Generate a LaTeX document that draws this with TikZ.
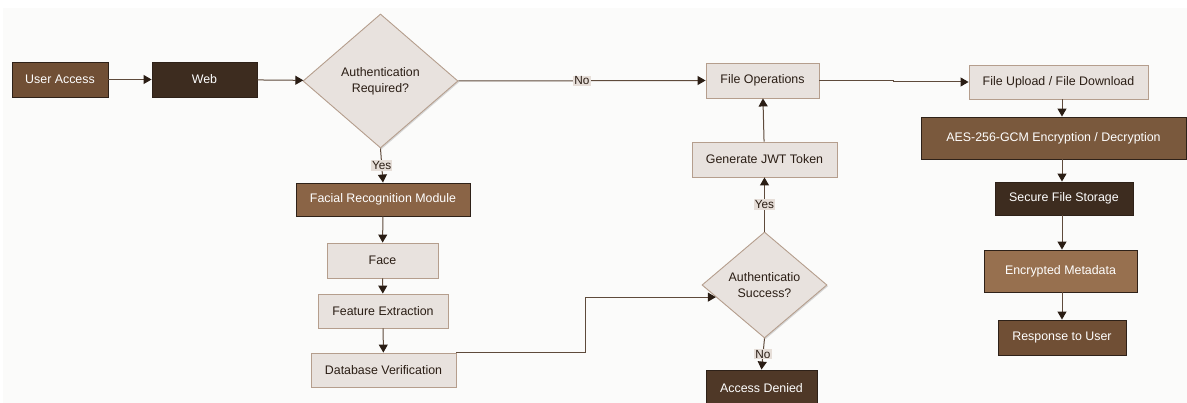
\documentclass[tikz,border=0pt]{standalone}
\usepackage{fontspec}
\setmainfont{Liberation Sans}
\usetikzlibrary{shapes.geometric,arrows.meta,shadows}
\definecolor{bgc}{HTML}{FBFBFA}
\definecolor{lightfill}{HTML}{E8E2DE}
\definecolor{lightline}{HTML}{B59E8D}
\definecolor{darkfill}{HTML}{3D2C1F}
\definecolor{brownfill}{HTML}{704F35}
\definecolor{rustfill}{HTML}{8A6446}
\definecolor{aesfill}{HTML}{7A593D}
\definecolor{metafill}{HTML}{97704F}
\definecolor{deniedfill}{HTML}{4F3827}
\definecolor{boxline}{HTML}{2E2118}
\definecolor{linkc}{HTML}{5E4A3B}
\definecolor{tipc}{HTML}{2A1D14}
\definecolor{txtc}{HTML}{2A1D14}
\definecolor{tagc}{HTML}{E6DED8}
\tikzset{
	box/.style={rectangle, draw=boxline, line width=0.9pt, inner sep=0pt, text=white, font=\fontsize{12.4}{14}\selectfont, drop shadow={shadow xshift=1.2pt, shadow yshift=-1.2pt, opacity=0.3}},
	lightbox/.style={box, fill=lightfill, draw=lightline, text=txtc},
	decision/.style={diamond, fill=lightfill, draw=lightline, line width=0.9pt, inner sep=0pt, align=center, text=txtc, font=\fontsize{12.4}{16}\selectfont, drop shadow={shadow xshift=1.2pt, shadow yshift=-1.2pt, opacity=0.3}},
	link/.style={draw=linkc, line width=1pt, -{Triangle[length=8pt,width=9pt,color=tipc]}},
	tag/.style={fill=tagc, inner sep=1pt, text=txtc, font=\fontsize{11.8}{13}\selectfont}
}
\begin{document}
\begin{tikzpicture}[x=1pt, y=-1pt]
	\useasboundingbox (0,0) rectangle (1187,403);
	\fill[white] (0,0) rectangle (1187,403);
	\fill[bgc] (3,8) rectangle (1187,403);

	\node[box, fill=brownfill, minimum width=96pt, minimum height=35pt] (user) at (60,79.5) {User Access};
	\node[box, fill=darkfill, minimum width=105pt, minimum height=35pt] (web) at (204.5,79.5) {Web};
	\node[decision, minimum width=155pt, minimum height=134pt] (auth) at (380.5,81) {Authentication\\Required?};

	\node[box, fill=rustfill, minimum width=174pt, minimum height=33pt] (frm) at (383,199.5) {Facial Recognition Module};
	\node[lightbox, minimum width=111pt, minimum height=35pt] (face) at (382.5,260.5) {Face};
	\node[lightbox, minimum width=130pt, minimum height=34pt] (fext) at (383,311) {Feature Extraction};
	\node[lightbox, minimum width=145pt, minimum height=34pt] (dbv) at (383.5,370) {Database Verification};

	\node[decision, minimum width=125pt, minimum height=106pt] (auth2) at (764.5,285) {Authenticatio\\Success?};
	\node[lightbox, minimum width=145pt, minimum height=35pt] (jwt) at (764.5,159.5) {Generate JWT Token};
	\node[lightbox, minimum width=113pt, minimum height=35pt] (fop) at (762.5,80.5) {File Operations};
	\node[box, fill=deniedfill, minimum width=111pt, minimum height=36pt] (denied) at (761.5,388) {Access Denied};

	\node[lightbox, minimum width=179pt, minimum height=34pt] (fud) at (1058.5,82) {File Upload / File Download};
	\node[box, fill=aesfill, minimum width=265pt, minimum height=42pt] (aes) at (1053.5,138) {AES-256-GCM Encryption / Decryption};
	\node[box, fill=darkfill, minimum width=138pt, minimum height=33pt] (sfs) at (1064,198.5) {Secure File Storage};
	\node[box, fill=metafill, minimum width=153pt, minimum height=42pt] (meta) at (1060.5,271) {Encrypted Metadata};
	\node[box, fill=brownfill, minimum width=128pt, minimum height=35pt] (resp) at (1062,337.5) {Response to User};

	\draw[link] (user) -- (web);
	\draw[link] (web) -- (auth);
	\draw[link] (auth.east) -- node[tag] {No} (fop.west);
	\draw[link] (auth.south) -- node[tag] {Yes} (frm.north);
	\draw[link] (frm) -- (face);
	\draw[link] (face) -- (fext);
	\draw[link] (fext) -- (dbv);
	\draw[link] (dbv.north east) -- ++(129,0) |- (auth2.194);
	\draw[link] (auth2.north) -- node[tag] {Yes} (jwt.south);
	\draw[link] (jwt) -- (fop);
	\draw[link] (auth2.south) -- node[tag] {No} (denied.north);
	\draw[link] (fop.east) -- ++(74,0) |- (fud.west);
	\draw[link] (fud.south -| resp) -- (aes.north -| resp);
	\draw[link] (aes.south -| resp) -- (sfs.north -| resp);
	\draw[link] (sfs.south -| resp) -- (meta.north -| resp);
	\draw[link] (meta.south -| resp) -- (resp.north);
\end{tikzpicture}
\end{document}
